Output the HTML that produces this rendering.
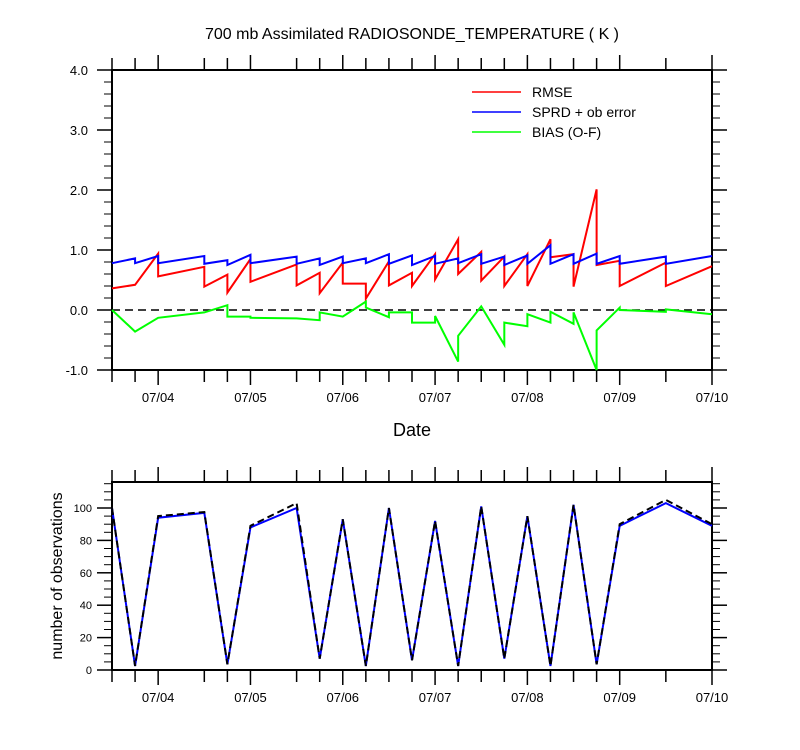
<!DOCTYPE html>
<html><head><meta charset="utf-8"><style>
body{margin:0;background:#fff;}
svg{display:block;font-family:"Liberation Sans",sans-serif;}
</style></head><body>
<svg id="c" width="800" height="750" viewBox="0 0 800 750"></svg>
<script>
// ---- data (time in hours from 07/03 12Z) ----
const rmseT=[0,6,12,12,24,24,30,30,36,36,48,48,54,54,60,60,66,66,72,72,78,78,84,84,90,90,96,96,102,102,108,108,114,114,120,120,126,126,132,132,144,144,156];
const rmseV=[0.36,0.42,0.94,0.56,0.72,0.39,0.59,0.29,0.85,0.47,0.76,0.41,0.62,0.28,0.79,0.44,0.44,0.19,0.81,0.41,0.62,0.40,0.93,0.51,1.18,0.60,0.97,0.49,0.89,0.40,0.93,0.40,1.18,0.88,0.93,0.39,2.01,0.75,0.82,0.40,0.79,0.40,0.73];
const sprdT=[0,6,6,12,12,24,24,30,30,36,36,48,48,54,54,60,60,66,66,72,72,78,78,84,84,90,90,96,96,102,102,108,108,114,114,120,120,126,126,132,132,144,144,156];
const sprdV=[0.78,0.86,0.78,0.90,0.78,0.90,0.77,0.83,0.75,0.92,0.78,0.89,0.77,0.86,0.75,0.89,0.78,0.86,0.78,0.93,0.77,0.91,0.75,0.90,0.77,0.86,0.78,0.93,0.77,0.89,0.75,0.91,0.77,1.08,0.77,0.93,0.77,0.94,0.77,0.90,0.77,0.89,0.77,0.90];
const biasT=[0,6,12,24,30,30,36,36,48,54,54,60,66,66,72,72,78,78,84,84,90,90,96,102,102,108,108,114,114,120,120,126,126,132,132,144,144,156];
const biasV=[0.0,-0.36,-0.13,-0.04,0.08,-0.11,-0.11,-0.13,-0.14,-0.17,-0.04,-0.11,0.14,0.04,-0.12,-0.04,-0.04,-0.21,-0.21,-0.10,-0.86,-0.43,0.06,-0.58,-0.21,-0.27,-0.07,-0.21,-0.03,-0.23,-0.04,-1.0,-0.34,0.04,0.0,-0.03,0.01,-0.07];
const obsT=[0,6,12,24,30,36,48,54,60,66,72,78,84,90,96,102,108,114,120,126,132,144,156];
const obsUsed=[100,2.5,94,97,3.5,88,100,7,93,2.5,100,6,92,2.5,101,7,95,2.5,102,3.5,89,103,89];
const obsTotal=[100,2.5,95,97.5,3.5,89,103,7,93,2.5,100,6,92,2.5,101,7,95,2.5,102,3.5,90,105,90];
const tickT=[0,6,12,24,30,36,48,54,60,66,72,78,84,90,96,102,108,114,120,126,132,144,156];
const dayT=[12,36,60,84,108,132,156];
const dayLabels=["07/04","07/05","07/06","07/07","07/08","07/09","07/10"];
const topYTicks=[4.0,3.0,2.0,1.0,0.0,-1.0];
const botYTicks=[0,20,40,60,80,100];

const svg=document.getElementById('c');
const NS='http://www.w3.org/2000/svg';
function el(tag,attrs,parent){const e=document.createElementNS(NS,tag);for(const k in attrs)e.setAttribute(k,attrs[k]);(parent||svg).appendChild(e);return e;}
const X0=112,X1=712;
const xs=t=>X0+(X1-X0)*t/156;
const yTop=v=>310-60*v;
const yBot=v=>670-1.62*v;

function frame(top,bot,name){
  const r=el('rect',{x:X0,y:top,width:X1-X0,height:bot-top,fill:'none',stroke:'#000','stroke-width':2});
  
  
  for(const t of tickT){
    const L=(dayT.includes(t))?15:12;
    el('line',{x1:xs(t),x2:xs(t),y1:bot,y2:bot+L,stroke:'#000','stroke-width':1.5});
    el('line',{x1:xs(t),x2:xs(t),y1:top,y2:top-L,stroke:'#000','stroke-width':1.5});
  }
  dayT.forEach((t,i)=>{
    const tx=el('text',{x:xs(t),y:bot+32,'font-size':13,'text-anchor':'middle'});
    tx.textContent=dayLabels[i];
    
    
  });
}
function poly(T,V,ys,color,dash,name){
  const p=el('polyline',{points:T.map((t,i)=>xs(t)+','+ys(V[i])).join(' '),fill:'none',stroke:color,'stroke-width':2,'stroke-linejoin':'miter'});
  if(dash)p.setAttribute('stroke-dasharray',dash);
  
  
}

// title
const ti=el('text',{x:412,y:39,'font-size':16,'text-anchor':'middle'});
ti.textContent='700 mb Assimilated RADIOSONDE_TEMPERATURE ( K )';



// top panel
frame(70,370,'top-plot-frame');
for(let v=-1;v<=4.001;v+=0.2){
  const maj=Math.abs(v-Math.round(v))<1e-6;
  const L=maj?15:8;
  el('line',{x1:X0-L,x2:X0,y1:yTop(v),y2:yTop(v),stroke:'#000','stroke-width':maj?1.5:1});
  el('line',{x1:X1,x2:X1+L,y1:yTop(v),y2:yTop(v),stroke:'#000','stroke-width':maj?1.5:1});
}
topYTicks.forEach(v=>{
  const tx=el('text',{x:88,y:yTop(v)+5,'font-size':13,'text-anchor':'end'});
  tx.textContent=v.toFixed(1);
  
  
});
const zl=el('line',{x1:X0,x2:X1,y1:yTop(0),y2:yTop(0),stroke:'#000','stroke-width':1.5,'stroke-dasharray':'8,5'});


poly(rmseT,rmseV,yTop,'#ff0000',null,'rmse-line');
poly(sprdT,sprdV,yTop,'#0000ff',null,'sprd-line');
poly(biasT,biasV,yTop,'#00ff00',null,'bias-line');
const leg=[['RMSE','#ff0000',92],['SPRD + ob error','#0000ff',112],['BIAS (O-F)','#00ff00',132]];
leg.forEach(([n,c,y])=>{
  const g=el('g',{});
  
  
  el('line',{x1:472,x2:521,y1:y,y2:y,stroke:c,'stroke-width':1.5},g);
  const t=el('text',{x:532,y:y+5,'font-size':14},g);t.textContent=n;
});
const xl=el('text',{x:412,y:436,'font-size':18,'text-anchor':'middle'});
xl.textContent='Date';



// bottom panel
frame(482,670,'bottom-plot-frame');
for(let v=0;v<=115;v+=5){
  const maj=v%20===0;
  const L=maj?15:8;
  el('line',{x1:X0-L,x2:X0,y1:yBot(v),y2:yBot(v),stroke:'#000','stroke-width':maj?1.5:1});
  el('line',{x1:X1,x2:X1+L,y1:yBot(v),y2:yBot(v),stroke:'#000','stroke-width':maj?1.5:1});
}
botYTicks.forEach(v=>{
  const tx=el('text',{x:92,y:yBot(v)+4,'font-size':11,'text-anchor':'end'});
  tx.textContent=v;
  
  
});
poly(obsT,obsUsed,yBot,'#0000ff',null,'obs-used-line');
poly(obsT,obsTotal,yBot,'#000000','7,4','obs-total-line');
const yl=el('text',{x:0,y:0,'font-size':16,'text-anchor':'middle',transform:'translate(62,576) rotate(-90)'});
yl.textContent='number of observations';


</script>
</body></html>
